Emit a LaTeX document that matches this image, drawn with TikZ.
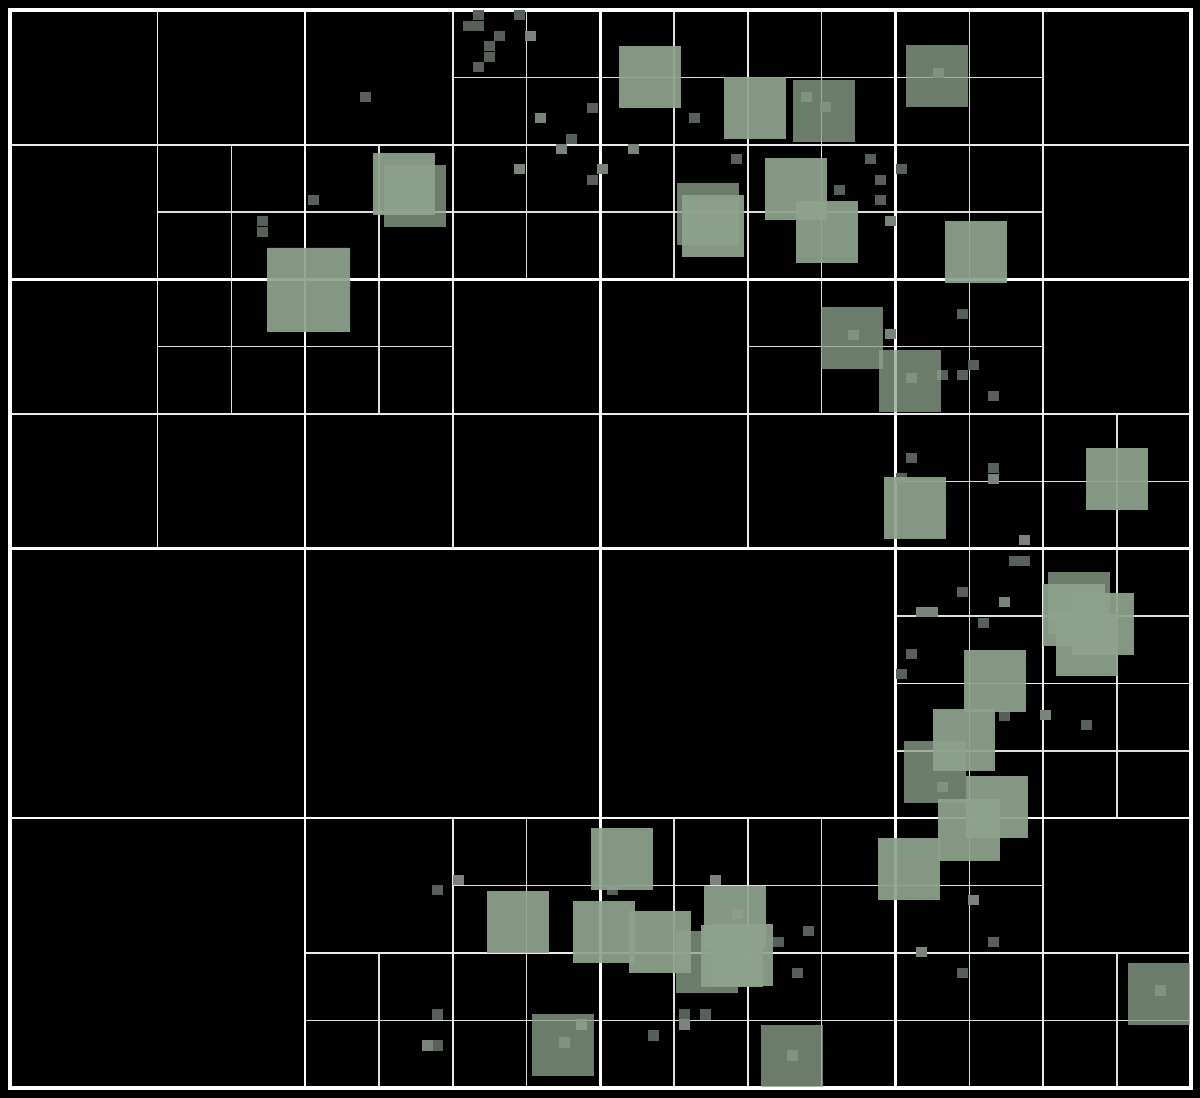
\documentclass[tikz,border=0pt]{standalone}
\usepackage{tikz}
\definecolor{sage}{RGB}{142,163,140}
\definecolor{ptgray}{RGB}{88,96,90}
\definecolor{ptlight}{RGB}{122,132,122}
\definecolor{gridgray}{RGB}{222,222,222}

\begin{document}
\begin{tikzpicture}[
  x=0.01cm, y=-0.01cm,
  outerbox/.style={draw=white, line width=1.15pt},
  lvlone/.style={draw=white, line width=0.9pt},
  lvltwo/.style={draw=white, line width=0.7pt},
  lvlthree/.style={draw=white!92!black, line width=0.5pt},
  lvlfour/.style={draw=gridgray, line width=0.42pt},
  smallpt/.style={fill=ptgray},
  smallptlight/.style={fill=ptlight},
  bigsq/.style={fill=sage, fill opacity=0.93},
  bigsqdark/.style={fill=sage, fill opacity=0.76},
]

%% Background
\fill[black] (0,0) rectangle (1200,1098);
\useasboundingbox (0,0) rectangle (1200,1098);

%% Quadtree cells (grid units: 16 x 16)
\begin{scope}[shift={(10,10)}, x=0.7375cm, y=-0.673125cm]
  % level 4 splits
  \foreach \i/\j in {2/2, 6/0, 4/2, 6/2, 8/0, 10/0, 8/2, 10/2, 12/0, 12/2,
                     2/4, 4/4, 10/4, 12/4, 12/6, 14/6,
                     12/8, 14/8, 12/10, 14/10,
                     6/12, 4/14, 6/14, 8/12, 10/12, 8/14, 10/14,
                     12/12, 12/14, 14/14}
    \draw[lvlfour] (\i+1,\j) -- (\i+1,\j+2) (\i,\j+1) -- (\i+2,\j+1);
  % level 3 splits
  \foreach \i/\j in {0/0, 4/0, 8/0, 12/0, 0/4, 4/4, 8/4, 12/4, 12/8, 4/12, 8/12, 12/12}
    \draw[lvlthree] (\i+2,\j) -- (\i+2,\j+4) (\i,\j+2) -- (\i+4,\j+2);
  % level 2 splits
  \draw[lvltwo] (4,0) -- (4,16) (12,0) -- (12,16) (0,4) -- (16,4) (0,12) -- (16,12);
  % level 1 split
  \draw[lvlone] (8,0) -- (8,16) (0,8) -- (16,8);
  % root cell
  \draw[outerbox] (0,0) rectangle (16,16);
\end{scope}

%% Sample points
\foreach \px/\py in {478/15, 468/26, 478/26, 519/15, 499/36, 489/46, 489/57, 478/67,
                     365/97, 592/108, 571/139, 592/180, 694/118, 736/159,
                     313/200, 262/221, 262/232, 870/159, 901/169, 839/190, 880/180, 880/200,
                     962/314, 973/365, 942/375, 962/375, 993/396, 911/458, 993/468, 901/478,
                     1014/561, 1024/561, 962/592, 983/623, 911/654, 901/674, 1004/716, 1086/725,
                     808/931, 993/942, 962/973, 797/973, 778/942, 437/890, 612/890,
                     437/1014, 437/1045, 684/1014, 705/1014, 653/1035,
                     806/97, 825/107, 938/73, 853/335, 911/378, 942/787, 1160/990,
                     792/1055, 564/1042, 737/914}
  \fill[smallpt] (\px-5,\py-5) rectangle ++(10.5,10.5);
\foreach \px/\py in {530/36, 540/118, 561/149, 633/149, 519/169, 602/169, 890/221, 890/334,
                     993/479, 1024/540, 1004/602, 921/612, 932/612, 1045/715, 973/900,
                     921/952, 715/880, 458/880, 427/1045, 581/1024, 684/1024}
  \fill[smallptlight] (\px-5,\py-5) rectangle ++(10.5,10.5);

%% Highlight squares (faint ones first)
\foreach \px/\py in {384/165, 677/183, 793/80, 906/45, 821/307, 879/350, 1048/572,
                     904/741, 676/931, 532/1014, 761/1025, 1128/963}
  \fill[bigsqdark] (\px,\py) rectangle ++(62,62);
\foreach \px/\py in {373/153, 619/46, 724/77,
                     682/195, 765/158, 796/201, 945/221, 884/477, 1086/448,
                     1043/584, 1072/593, 1056/614, 964/650, 933/709, 966/776, 938/799,
                     878/838, 591/828, 487/891, 573/901, 629/911, 704/886, 711/924, 701/925}
  \fill[bigsq] (\px,\py) rectangle ++(62,62);
% merged block on the left
\fill[bigsq] (267,248) rectangle ++(62,62) (288,248) rectangle ++(62,62)
             (267,270) rectangle ++(62,62) (288,270) rectangle ++(62,62);

\end{tikzpicture}
\end{document}
